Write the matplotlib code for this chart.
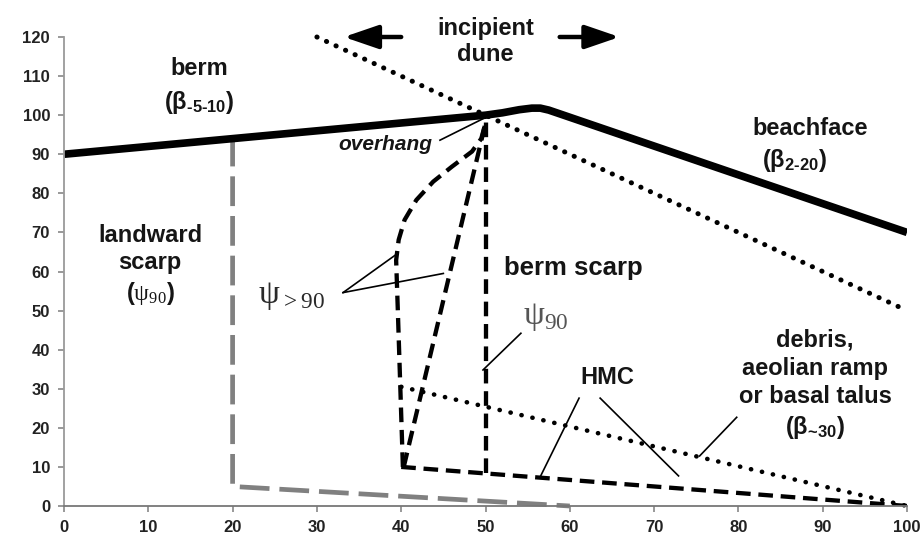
import matplotlib
matplotlib.use("Agg")
import matplotlib.pyplot as plt

plt.rcParams['font.family'] = ['Liberation Sans', 'DejaVu Sans']
plt.rcParams['mathtext.fontset'] = 'custom'
plt.rcParams['mathtext.rm'] = 'Liberation Sans:bold'
plt.rcParams['mathtext.bf'] = 'Liberation Sans:bold'
plt.rcParams['mathtext.it'] = 'Liberation Sans:bold:italic'
plt.rcParams['mathtext.sf'] = 'Liberation Serif'

# ---- data ----
x_ticks = [0, 10, 20, 30, 40, 50, 60, 70, 80, 90, 100]
y_ticks = [0, 10, 20, 30, 40, 50, 60, 70, 80, 90, 100, 110, 120]

berm_x = [0, 50, 52, 54, 55.5, 56.5, 57.5, 59, 100]
berm_y = [90, 100, 100.6, 101.4, 101.8, 101.8, 101.3, 100.2, 70]

upper_dot_x = [30, 100]
upper_dot_y = [120, 50]

debris_x = [40, 100]
debris_y = [30.5, 0]

hmc_x = [40, 100]
hmc_y = [10, 0]

scarp90_x = [50, 50]
scarp90_y = [8.5, 100]

planar_x = [40.3, 50]
planar_y = [10, 98]

curve_x = [40.2, 39.9, 39.6, 39.4, 39.7, 40.4, 41.8, 43.8, 46.0, 48.4, 49.5, 50]
curve_y = [10, 30, 50, 62.9, 68.1, 73.2, 78.3, 83.0, 86.8, 90.7, 94, 98]

landward_x = [20, 20, 60]
landward_y = [94.5, 5, 0]

# ---- figure ----
fig = plt.figure(figsize=(9.24, 5.42), dpi=100)
ax = fig.add_axes([64/924, 1 - 506/542, (907 - 64)/924, (506 - 37)/542])
ax.set_xlim(0, 100)
ax.set_ylim(0, 120)

for s in ['top', 'right']:
    ax.spines[s].set_visible(False)
ax.spines['left'].set_color('#9a9a9a')
ax.spines['bottom'].set_color('#777777')
ax.spines['left'].set_linewidth(1.3)
ax.spines['bottom'].set_linewidth(1.3)
ax.set_xticks(x_ticks)
ax.set_yticks(y_ticks)
ax.tick_params(axis='both', direction='out', length=4, width=1.2, colors='#888888',
               labelsize=12, labelcolor='#222222', pad=6)
for lab_ in ax.get_xticklabels() + ax.get_yticklabels():
    lab_.set_fontweight('bold')

dash = (0, (3.4, 1.8))
lw_d = 3.1
# lines
ax.plot(landward_x, landward_y, color='#808080', lw=3.4, linestyle=(0, (6.3, 2.1)), clip_on=False)
ax.plot(upper_dot_x, upper_dot_y, color='black', lw=3.6, linestyle=(0, (0.05, 2.05)),
        dash_capstyle='round', clip_on=False)
ax.plot(debris_x, debris_y, color='black', lw=3.3, linestyle=(0, (0.05, 2.4)),
        dash_capstyle='round', clip_on=False)
ax.plot(hmc_x, hmc_y, color='black', lw=lw_d, linestyle=dash)
ax.plot(scarp90_x, scarp90_y, color='black', lw=lw_d, linestyle=dash)
ax.plot(planar_x, planar_y, color='black', lw=lw_d, linestyle=dash)
ax.plot(curve_x, curve_y, color='black', lw=lw_d, linestyle=dash)
ax.plot(berm_x, berm_y, color='black', lw=5.5, solid_capstyle='butt', solid_joinstyle='round')

# pointer lines
pointers = [((44.6, 93.6), (49.9, 99.3)),
            ((33.1, 54.6), (39.5, 64.5)),
            ((33.1, 54.6), (45.0, 59.5)),
            ((54.2, 44.2), (49.7, 34.8)),
            ((61.1, 27.6), (56.5, 7.5)),
            ((63.6, 27.6), (72.9, 7.7)),
            ((79.8, 22.7), (75.4, 12.8))]
for (a, b) in pointers:
    ax.plot([a[0], b[0]], [a[1], b[1]], color='black', lw=1.2)

# arrows
arrow_style = '-|>,head_length=1.05,head_width=0.36'
ax.annotate('', xy=(33.2, 120), xytext=(40.0, 120),
            arrowprops=dict(arrowstyle=arrow_style, color='black', lw=3.2,
                            mutation_scale=20, shrinkA=0, shrinkB=0),
            annotation_clip=False)
ax.annotate('', xy=(65.9, 120), xytext=(58.8, 120),
            arrowprops=dict(arrowstyle=arrow_style, color='black', lw=3.2,
                            mutation_scale=20, shrinkA=0, shrinkB=0),
            annotation_clip=False)

tc = '#151515'
lf = 17
def lab(x, y, s, size=lf, **kw):
    kw.setdefault('ha', 'center')
    kw.setdefault('va', 'center')
    kw.setdefault('fontweight', 'bold')
    kw.setdefault('color', tc)
    ax.text(x, y, s, fontsize=size, clip_on=False, **kw)

lab(50, 122.2, 'incipient')
lab(50, 115.6, 'dune')
lab(16.1, 112.0, 'berm')
lab(16.1, 103.2, r'($\mathrm{\beta}_{\text{-5-10}}$)')
lab(10.2, 69.3, 'landward')
lab(10.2, 62.4, 'scarp')
lab(10.2, 54.4, r'($\mathsf{\psi}_{\mathsf{90}}$)')
lab(38.1, 92.4, 'overhang', size=15, fontstyle='italic')
lab(88.5, 96.7, 'beachface')
lab(86.7, 88.4, r'($\mathrm{\beta}_{\text{2-20}}$)')
lab(52.2, 60.9, 'berm scarp', size=18.5, ha='left')
lab(64.5, 32.8, 'HMC')
lab(89.1, 42.5, 'debris,')
lab(89.1, 35.3, 'aeolian ramp')
lab(89.1, 27.9, 'or basal talus')
lab(89.1, 20.2, r'($\mathrm{\beta}_{\text{~30}}$)')
lab(23.0, 53.8, r'$\mathsf{\psi}_{\mathsf{>90}}$', size=24, ha='left', fontweight='normal', color='#2a2a2a')
lab(54.4, 48.3, r'$\mathsf{\psi}_{\mathsf{90}}$', size=24, ha='left', fontweight='normal', color='#555555')

fig.savefig('out.png', dpi=100)
